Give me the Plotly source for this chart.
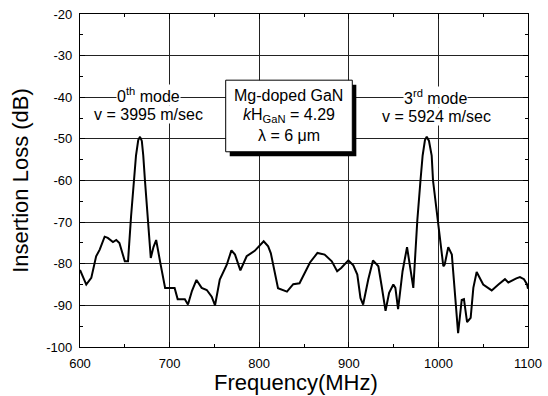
import plotly.graph_objects as go

freq_mhz = [600, 603, 607, 612.6, 618, 622, 627.5, 631, 636.8, 640.5, 644, 650, 653.6, 657,
            660, 662.5, 665, 667, 669, 670.6, 672.5, 676, 679, 682, 685, 690, 695, 705.6,
            709, 717, 720.5, 725, 730, 735.8, 741.5, 747, 750.7, 756, 763.7, 769, 773, 779,
            786, 795, 805, 810, 813, 821, 831, 838, 845, 856.7, 865, 873, 881, 887, 891.5,
            899.5, 905, 909.5, 913, 916, 921.7, 927, 933, 936.7, 941, 945, 949.7, 952, 955,
            960, 965, 972, 976.5, 980, 982.4, 985, 987, 989.5, 992.5, 994, 999, 1001.8,
            1003.7, 1005.5, 1007, 1011, 1015, 1018.5, 1022, 1026, 1028.5, 1032, 1036, 1039,
            1042.7, 1050, 1059.5, 1067, 1074.3, 1078, 1082, 1087, 1091, 1095.5, 1099, 1100]
loss_db = [-81.5, -83, -85, -83.4, -78.2, -76.6, -73.5, -73.8, -74.8, -74.3, -75, -79.4, -79.4, -68.6,
           -60, -54, -50.3, -49.5, -50.5, -54, -60, -69.5, -78.6, -76, -74.3, -80.2, -85.8, -85.8,
           -88.5, -88.5, -89.8, -86.5, -83.9, -85.8, -86.3, -87.9, -90, -83.8, -80.3, -76.8, -77.8, -81.6,
           -78.2, -76.9, -74.6, -75.8, -77.5, -85.9, -86.7, -84.9, -84.7, -79.7, -77.4, -77.8, -79.4, -81.8, -81,
           -79.2, -80.4, -82.6, -88.2, -89.8, -83.8, -79.2, -80.6, -85.4, -91.3, -87, -85, -85.8, -90.9,
           -81.8, -76, -85.8, -69.5, -60, -54, -50.3, -49.5, -50.5, -54, -60, -69.5, -74.5,
           -77.5, -80.6, -80.2, -76, -77.8, -87, -96.7, -88.7, -88.5, -94, -93, -85.8,
           -82, -85, -86.4, -85, -83.7, -84.5, -84, -83.5, -83.2, -83.7, -85, -86]

x_ticks = [600, 700, 800, 900, 1000, 1100]
x_tick_labels = ["600", "700", "800", "900", "1000", "1100"]
y_ticks = [-20, -30, -40, -50, -60, -70, -80, -90, -100]
y_tick_labels = ["-20", "-30", "-40", "-50", "-60", "-70", "-80", "-90", "-100"]
x_title = "Frequency(MHz)"
y_title = "Insertion Loss (dB)"

FONT = "Liberation Sans, Arial, sans-serif"

fig = go.Figure()
fig.add_trace(go.Scatter(x=freq_mhz, y=loss_db, mode="lines",
                         line=dict(color="black", width=2), showlegend=False))

axis_common = dict(
    showline=True, linecolor="black", linewidth=1.2, mirror="ticks",
    showgrid=True, gridcolor="#222222", gridwidth=1,
    ticks="inside", ticklen=5, tickcolor="black",
    minor=dict(ticks="inside", ticklen=3, tickcolor="black", showgrid=False),
    zeroline=False, automargin=False,
    tickfont=dict(family=FONT, size=13, color="black"),
)

fig.update_xaxes(range=[600, 1100], tickvals=x_ticks, ticktext=x_tick_labels,
                 ticklabelstandoff=4, **axis_common)
fig.update_xaxes(minor_dtick=50, minor_tick0=600)
fig.update_yaxes(range=[-100, -20], tickvals=y_ticks, ticktext=y_tick_labels,
                 title=dict(text=y_title, font=dict(family=FONT, size=22, color="black"), standoff=11),
                 ticklabelstandoff=4, **axis_common)
fig.update_yaxes(minor_dtick=5, minor_tick0=-100)

# x-axis title as a paper annotation (fine vertical placement)
fig.add_annotation(x=0.483, y=-0.108, xref="paper", yref="paper", text=x_title,
                   showarrow=False, xanchor="center", yanchor="middle", borderpad=0,
                   font=dict(family=FONT, size=22, color="black"))

# info box with shadow
fig.add_shape(type="rect", x0=767.1, x1=908.4, y0=-54.2, y1=-37.0, xref="x", yref="y",
              fillcolor="black", line=dict(color="black", width=0), layer="above")
fig.add_shape(type="rect", x0=762.6, x1=903.9, y0=-53.1, y1=-35.9, xref="x", yref="y",
              fillcolor="white", line=dict(color="black", width=1), layer="above")

tf = dict(family=FONT, size=16, color="black")
ann = [
    (833, -39.5, "Mg-doped GaN", None),
    (833, -44.3, "<i>k</i>H<sub>GaN</sub> = 4.29", None),
    (833, -49.1, "λ = 6 μm", None),
    (677, -39.5, "0<sup>th</sup> mode", "white"),
    (677, -44.2, "v = 3995 m/sec", "white"),
    (997, -40.0, "3<sup>rd</sup> mode", "white"),
    (998, -44.7, "v = 5924 m/sec", "white"),
]
for x, y, t, bg in ann:
    fig.add_annotation(x=x, y=y, text=t, showarrow=False, font=tf,
                       xanchor="center", yanchor="middle",
                       bgcolor=bg if bg else "rgba(0,0,0,0)", borderpad=0)

fig.update_layout(
    width=548, height=396,
    margin=dict(l=80, r=20, t=14, b=49),
    paper_bgcolor="white", plot_bgcolor="white",
    font=dict(family=FONT, color="black"),
)

fig.write_html("out.html")
